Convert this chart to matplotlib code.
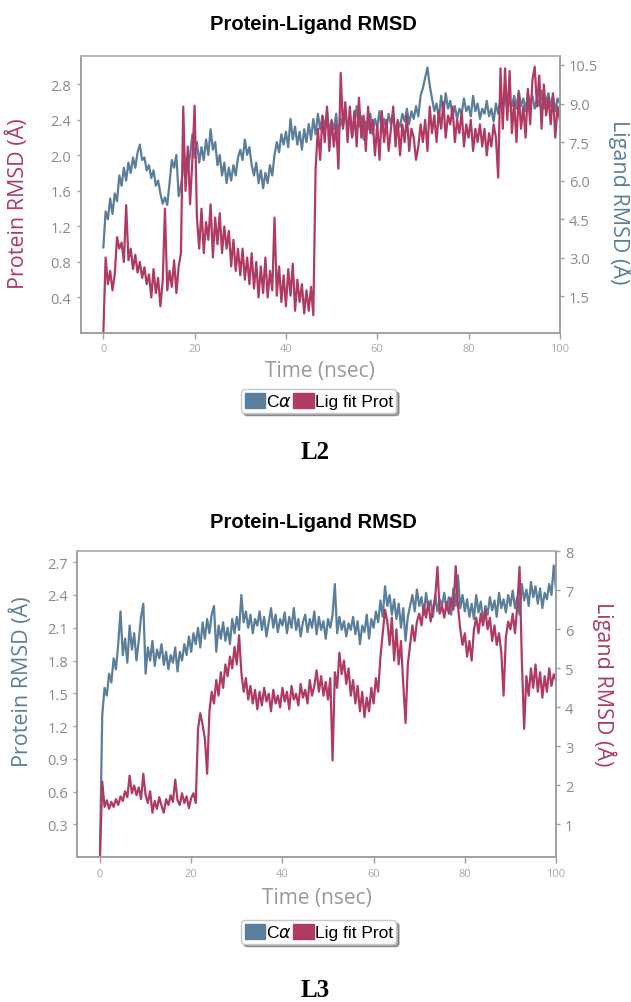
import numpy as np
import matplotlib
matplotlib.use("Agg")
import matplotlib.pyplot as plt
from matplotlib.patches import Patch

# colours
BLUE = "#5b7f9a"
RED = "#b03a64"
GREY = "#8a8a8a"

# time grid, one frame every 0.5 ns
time_ns = np.arange(201) * 0.5

# ---- L2 ----  (Lig fit Prot on the left axis, C-alpha on the right axis)
l2_lig = [
    0.00, 0.85, 0.55, 0.70, 0.48, 0.66, 1.08, 0.95, 1.02, 0.80,
    1.44, 0.82, 0.95, 0.72, 0.88, 0.68, 0.80, 0.62, 0.74, 0.55,
    0.66, 0.40, 0.72, 0.45, 0.62, 0.30, 0.58, 1.40, 0.48, 0.70,
    0.52, 0.82, 0.45, 0.75, 0.90, 2.55, 1.60, 2.10, 1.45, 1.95,
    2.56, 1.30, 0.95, 1.40, 0.90, 1.25, 1.05, 1.45, 0.85, 1.30,
    1.00, 1.35, 0.90, 1.20, 0.95, 1.15, 0.75, 1.05, 0.70, 0.95,
    0.65, 0.95, 0.60, 0.85, 0.55, 0.90, 0.50, 0.80, 0.40, 0.75,
    0.45, 0.85, 0.40, 0.70, 0.48, 1.30, 0.42, 0.75, 0.35, 0.65,
    0.30, 0.72, 0.42, 0.78, 0.25, 0.60, 0.35, 0.55, 0.22, 0.48,
    0.25, 0.52, 0.20, 1.85, 2.30, 1.95, 2.45, 2.15, 2.55, 2.05,
    2.40, 2.10, 2.35, 1.85, 2.93, 2.30, 2.60, 2.15, 2.55, 2.20,
    2.50, 2.10, 2.65, 2.20, 2.45, 2.05, 2.55, 2.25, 2.40, 2.00,
    2.35, 1.95, 2.50, 2.15, 2.40, 2.05, 2.30, 2.55, 2.10, 2.40,
    2.00, 2.35, 2.15, 2.45, 2.05, 2.30, 2.20, 1.95, 2.10, 2.35,
    2.15, 2.40, 2.05, 2.55, 2.25, 2.45, 2.15, 2.50, 2.30, 2.60,
    2.20, 2.45, 2.35, 2.55, 2.15, 2.40, 2.25, 2.50, 2.10, 2.35,
    2.20, 2.40, 2.05, 2.30, 2.15, 2.35, 2.10, 2.30, 2.00, 2.25,
    2.10, 2.35, 2.20, 1.75, 2.98, 2.30, 2.98, 2.40, 2.95, 2.25,
    2.60, 2.15, 2.70, 2.30, 2.55, 2.20, 2.75, 2.35, 2.85, 3.00,
    2.55, 2.90, 2.30, 2.80, 2.45, 2.65, 2.35, 2.70, 2.20, 2.55,
    2.40,
]
l2_ca = [
    3.40, 4.80, 4.50, 5.30, 4.70, 5.50, 5.20, 6.20, 5.80, 6.50,
    6.00, 6.70, 6.30, 6.90, 6.50, 7.10, 7.40, 6.80, 6.90, 6.40,
    6.60, 6.10, 6.40, 5.80, 6.00, 5.50, 5.10, 5.35, 5.05, 5.90,
    6.80, 6.50, 7.00, 5.40, 5.80, 6.50, 6.90, 6.40, 7.00, 7.80,
    6.90, 7.50, 6.70, 7.30, 6.80, 7.60, 7.00, 8.00, 7.20, 7.50,
    6.60, 7.00, 6.20, 6.70, 5.90, 6.50, 6.00, 6.60, 6.20, 6.90,
    7.20, 6.80, 7.60, 7.00, 7.30, 6.60, 6.20, 6.70, 5.90, 6.40,
    5.70, 6.30, 5.90, 6.60, 6.20, 7.00, 7.50, 7.10, 7.80, 7.40,
    7.90, 7.30, 8.40, 7.60, 8.10, 7.40, 7.90, 7.20, 8.00, 7.50,
    8.20, 7.60, 8.40, 7.80, 8.60, 8.00, 8.50, 8.10, 8.70, 7.90,
    8.30, 8.00, 8.60, 7.80, 8.40, 8.10, 8.80, 8.00, 8.50, 7.70,
    8.20, 8.90, 8.10, 8.50, 7.60, 8.30, 8.00, 8.60, 7.80, 8.40,
    8.10, 8.70, 7.90, 8.40, 8.00, 8.60, 8.20, 8.50, 7.90, 8.30,
    8.10, 8.60, 8.30, 8.80, 8.20, 8.70, 8.40, 8.90, 8.50, 9.30,
    9.60, 10.00, 10.40, 9.70, 9.20, 8.70, 9.00, 8.40, 9.30, 8.60,
    9.40, 8.80, 9.10, 8.50, 8.90, 8.40, 8.80, 8.60, 9.20, 8.70,
    8.90, 8.50, 9.30, 8.70, 9.00, 8.40, 8.80, 8.60, 9.10, 8.50,
    8.80, 8.30, 9.00, 8.60, 9.20, 8.80, 9.40, 8.70, 9.10, 8.90,
    9.30, 8.80, 9.50, 8.90, 9.20, 8.70, 9.40, 9.00, 9.30, 8.80,
    9.20, 8.90, 9.50, 8.80, 9.10, 9.40, 8.90, 9.30, 8.70, 9.20,
    9.00,
]
l2_left_ticks = [0.4, 0.8, 1.2, 1.6, 2.0, 2.4, 2.8]
l2_right_ticks = [1.5, 3.0, 4.5, 6.0, 7.5, 9.0, 10.5]

# ---- L3 ----  (C-alpha on the left axis, Lig fit Prot on the right axis)
l3_ca = [
    0.05, 1.30, 1.55, 1.48, 1.68, 1.60, 1.82, 1.72, 1.95, 2.25,
    1.85, 2.00, 1.78, 2.12, 1.90, 2.05, 1.80, 1.98, 2.20, 2.32,
    1.68, 1.92, 1.80, 1.98, 1.75, 1.90, 1.82, 1.95, 1.76, 1.88,
    1.72, 1.85, 1.78, 1.92, 1.70, 1.88, 1.80, 1.95, 1.85, 2.02,
    1.88, 2.05, 1.95, 2.10, 1.92, 2.15, 2.00, 2.18, 2.05, 2.22,
    2.30, 1.88, 2.12, 2.00, 2.15, 1.98, 2.10, 1.95, 2.18, 2.05,
    2.20, 2.08, 2.40, 2.15, 2.25, 2.10, 2.22, 2.05, 2.18, 2.12,
    2.25, 2.08, 2.20, 2.02, 2.15, 2.28, 2.10, 2.22, 2.06, 2.18,
    2.12, 2.24, 2.05, 2.20, 2.10, 2.28, 2.08, 2.18, 2.02, 2.15,
    2.22, 2.06, 2.18, 2.10, 2.25, 2.04, 2.20, 2.08, 2.16, 2.00,
    2.18, 2.10, 2.22, 2.50, 2.05, 2.20, 2.08, 2.16, 2.02, 2.14,
    2.08, 2.20, 2.04, 2.16, 1.95, 2.12, 2.06, 2.22, 2.00, 2.18,
    2.10, 2.25, 2.15, 2.35, 2.20, 2.48, 2.30, 2.40, 2.22, 2.36,
    2.18, 2.32, 2.10, 2.28, 1.98, 2.20, 2.30, 2.40, 2.25, 2.45,
    2.30, 2.38, 2.22, 2.42, 2.28, 2.35, 2.20, 2.40, 2.25, 2.36,
    2.30, 2.42, 2.26, 2.38, 2.22, 2.46, 2.30, 2.58, 2.28, 2.40,
    2.25, 2.36, 2.20, 2.32, 2.18, 2.40, 2.24, 2.34, 2.15, 2.30,
    2.22, 2.38, 2.26, 2.35, 2.20, 2.42, 2.28, 2.36, 2.24, 2.40,
    2.30, 2.44, 2.28, 2.38, 2.22, 2.50, 2.35, 2.45, 2.30, 2.52,
    2.38, 2.48, 2.32, 2.46, 2.28, 2.42, 2.36, 2.50, 2.40, 2.67,
    2.45,
]
l3_lig = [
    0.16, 2.10, 1.45, 1.62, 1.40, 1.58, 1.45, 1.65, 1.50, 1.72,
    1.60, 1.85, 1.70, 2.25, 1.80, 2.00, 1.75, 1.95, 1.65, 2.30,
    1.75, 1.55, 1.85, 1.30, 1.60, 1.40, 1.70, 1.48, 1.30, 1.65,
    1.50, 1.75, 1.58, 2.15, 1.62, 1.50, 1.80, 1.55, 1.72, 1.42,
    1.68, 1.80, 1.55, 3.45, 3.85, 3.55, 3.20, 2.30, 3.90, 4.40,
    4.10, 4.70, 4.30, 4.90, 4.50, 5.10, 4.80, 5.30, 5.00, 5.55,
    5.10, 5.85, 4.90, 4.40, 4.75, 4.20, 4.55, 4.10, 4.45, 3.95,
    4.40, 4.05, 4.50, 4.15, 4.35, 3.90, 4.45, 4.10, 4.30, 4.00,
    4.50, 4.15, 4.40, 3.95, 4.55, 4.20, 4.35, 4.05, 4.60, 4.25,
    4.45, 4.10, 4.70, 4.30, 4.55, 4.95, 4.40, 4.80, 4.30, 4.65,
    4.20, 4.75, 2.64, 4.90, 4.50, 5.40, 4.85, 5.20, 4.60, 5.00,
    4.30, 4.70, 4.10, 4.55, 3.90, 4.40, 3.75, 4.25, 3.90, 4.50,
    4.10, 4.75, 4.40, 5.30, 5.90, 6.50, 6.20, 5.60, 6.30, 5.20,
    6.00, 5.10, 5.70, 4.60, 3.60, 5.10, 5.60, 6.10, 5.70, 6.20,
    6.40, 6.10, 6.60, 6.30, 6.70, 6.20, 6.50, 6.80, 7.60, 6.40,
    6.60, 6.30, 6.70, 6.40, 6.80, 6.50, 7.62, 6.60, 6.00, 5.60,
    5.90, 5.30, 5.70, 5.20, 6.00, 6.30, 5.90, 6.40, 6.10, 6.50,
    6.00, 6.30, 5.70, 6.10, 5.60, 5.90, 5.40, 4.30, 5.80, 6.20,
    6.00, 6.40, 5.90, 6.60, 7.60, 5.20, 3.45, 4.80, 4.30, 5.00,
    4.50, 5.10, 4.40, 4.90, 4.25, 4.80, 4.40, 5.00, 4.55, 4.85,
    4.70,
]
l3_left_ticks = [0.3, 0.6, 0.9, 1.2, 1.5, 1.8, 2.1, 2.4, 2.7]
l3_right_ticks = [1, 2, 3, 4, 5, 6, 7, 8]

x_ticks = [0, 20, 40, 60, 80, 100]

NARROW = ["Liberation Sans Narrow", "Liberation Sans", "DejaVu Sans"]
SANS = ["Open Sans", "DejaVu Sans"]


def style_axes(ax, ax2, left_ticks, right_ticks, label_pos):
    for a in (ax, ax2):
        for s in a.spines.values():
            s.set_color("#a0a0a0")
            s.set_linewidth(1.2)
        a.spines["top"].set_color("#b5b5b5")
    ax.set_xlim(-5, 100)
    ax.set_xticks(x_ticks)
    ax.set_yticks(left_ticks)
    ax2.set_yticks(right_ticks)
    ax.tick_params(axis="x", colors="#a0a0a0", labelcolor="#a8a8a8",
                   labelsize=8, length=4, width=1)
    ax.tick_params(axis="y", colors="#a0a0a0", labelcolor=GREY,
                   labelsize=10.5, length=3, width=1)
    ax2.tick_params(axis="y", colors="#a0a0a0", labelcolor=GREY,
                    labelsize=10.5, length=3, width=1)
    for lab in ax.get_xticklabels() + ax.get_yticklabels() + ax2.get_yticklabels():
        lab.set_family(SANS)
    ax.set_xlabel("Time (nsec)", color="#999999", fontsize=15, family=SANS)
    ax.xaxis.set_label_coords(0.5, label_pos[0])
    ax.xaxis.label.set_va("center")
    ax.yaxis.set_label_coords(label_pos[1], label_pos[2])
    ax.yaxis.label.set_va("center")
    ax2.yaxis.set_label_coords(label_pos[3], label_pos[4])
    ax2.yaxis.label.set_va("center")


fig = plt.figure(figsize=(6.31, 10.03), dpi=100)

leg_handles = [Patch(facecolor=BLUE, edgecolor=BLUE), Patch(facecolor=RED, edgecolor=RED)]
leg_labels = [r"C$\alpha$", "Lig fit Prot"]


def add_legend(y):
    leg = fig.legend(leg_handles, leg_labels, loc="center", bbox_to_anchor=(0.505, y),
                     ncol=2, frameon=True, fancybox=True, shadow=True,
                     handlelength=1.2, handleheight=1.0, handletextpad=0.05,
                     columnspacing=0.05, borderpad=0.2, borderaxespad=0,
                     prop={"family": NARROW, "size": 12.5})
    leg.get_frame().set_edgecolor("#c8c8c8")
    return leg


# ---------------- panel L2 ----------------
ax = fig.add_axes([0.1276, 0.667, 0.7596, 0.2762])
ax2 = ax.twinx()
ax2.plot(time_ns, l2_ca, color=BLUE, lw=1.6)
ax.plot(time_ns, l2_lig, color=RED, lw=1.6)
ax.set_zorder(ax2.get_zorder() + 1)
ax.patch.set_visible(False)
ax.set_ylim(0, 3.12)
ax2.set_ylim(0.07, 10.85)
ax.set_ylabel("Protein RMSD (Å)", color=RED, fontsize=15.5, family=SANS)
ax2.set_ylabel("Ligand RMSD (Å)", color=BLUE, fontsize=15.5, family=SANS,
               rotation=270)
style_axes(ax, ax2, l2_left_ticks, l2_right_ticks,
           (-0.137, -0.130, 0.47, 1.126, 0.476))
fig.text(0.497, 1 - 25 / 1003, "Protein-Ligand RMSD", ha="center", va="center",
         fontsize=14.5, fontweight="bold", family=NARROW)
add_legend(1 - 402 / 1003)
fig.text(0.5, 1 - 453 / 1003, "L2", ha="center", va="center", fontsize=18,
         fontweight="bold", family=["Liberation Serif", "DejaVu Serif"])

# ---------------- panel L3 ----------------
bx = fig.add_axes([0.1223, 0.1443, 0.7589, 0.3051])
bx2 = bx.twinx()
bx.plot(time_ns, l3_ca, color=BLUE, lw=1.6)
bx2.plot(time_ns, l3_lig, color=RED, lw=1.6)
bx.set_ylim(0, 2.8)
bx2.set_ylim(0.16, 8.0)
bx.set_ylabel("Protein RMSD (Å)", color=BLUE, fontsize=15.5, family=SANS)
bx2.set_ylabel("Ligand RMSD (Å)", color=RED, fontsize=15.5, family=SANS,
               rotation=270)
style_axes(bx, bx2, l3_left_ticks, l3_right_ticks,
           (-0.133, -0.115, 0.576, 1.100, 0.57))
fig.text(0.497, 1 - 523 / 1003, "Protein-Ligand RMSD", ha="center", va="center",
         fontsize=14.5, fontweight="bold", family=NARROW)
add_legend(1 - 933 / 1003)
fig.text(0.5, 1 - 991 / 1003, "L3", ha="center", va="center", fontsize=18,
         fontweight="bold", family=["Liberation Serif", "DejaVu Serif"])

fig.savefig("out.png", dpi=100)
